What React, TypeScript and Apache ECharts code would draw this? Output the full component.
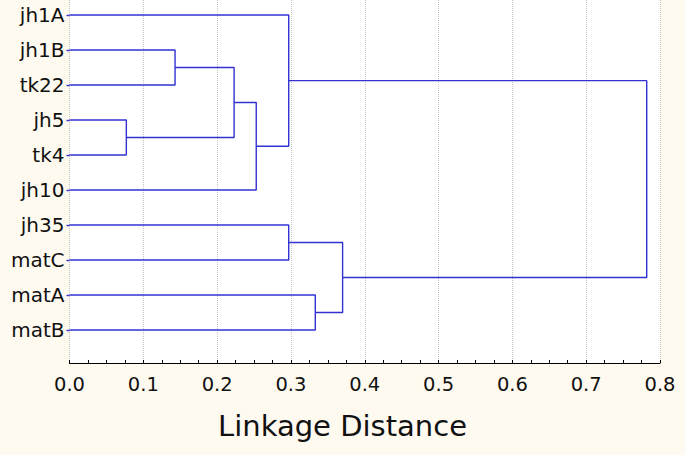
import React, { useEffect, useRef } from "react";
import * as echarts from "echarts";

const leaves = ["jh1A", "jh1B", "tk22", "jh5", "tk4", "jh10", "jh35", "matC", "matA", "matB"];
// linkage: node ids 0..9 are leaves, merges get ids 10..18 in order
const mergeLeft = [3, 1, 11, 12, 0, 6, 8, 15, 14];
const mergeRight = [4, 2, 10, 5, 13, 7, 9, 16, 17];
const mergeHeight = [0.077, 0.143, 0.223, 0.253, 0.297, 0.297, 0.333, 0.37, 0.782];
const xTicks = [0, 0.1, 0.2, 0.3, 0.4, 0.5, 0.6, 0.7, 0.8];
const axisTitle = "Linkage Distance";

const LINE = "#3232d2";

export default function App() {
  const ref = useRef<HTMLDivElement>(null);
  useEffect(() => {
    if (!ref.current) return;
    const chart = echarts.init(ref.current, null, { renderer: "svg" });
    const pos: number[] = leaves.map((_, i) => i);
    const hgt: number[] = leaves.map(() => 0);
    const series: any[] = [];
    mergeLeft.forEach((l, k) => {
      const r = mergeRight[k];
      const h = mergeHeight[k];
      series.push({
        type: "line",
        showSymbol: false,
        symbol: "none",
        silent: true,
        lineStyle: { color: LINE, width: 1.4 },
        data: [
          [hgt[l], pos[l]],
          [h, pos[l]],
          [h, pos[r]],
          [hgt[r], pos[r]],
        ],
      });
      pos.push((pos[l] + pos[r]) / 2);
      hgt.push(h);
    });
    const leafIdx = leaves.map((_, i) => i);
    chart.setOption({
      animation: false,
      backgroundColor: "#fffaf0",
      textStyle: { fontFamily: "DejaVu Sans" },
      grid: {
        left: 69.5,
        right: 25,
        top: 0,
        bottom: 92,
        show: true,
        backgroundColor: "#ffffff",
        borderWidth: 0,
      },
      xAxis: {
        type: "value",
        min: 0,
        max: 0.8,
        interval: 0.1,
        axisLine: { show: true, onZero: false, lineStyle: { color: "#000", width: 1.2 } },
        axisTick: { show: true, inside: true, length: 3, lineStyle: { color: "#000" } },
        minorTick: { show: true, splitNumber: 4, length: 3, lineStyle: { color: "#000" } },
        axisLabel: {
          color: "#111",
          fontSize: 19.5,
          margin: 11,
          fontFamily: "DejaVu Sans",
          formatter: (v: number) => v.toFixed(1),
          customValues: xTicks,
        },
        splitLine: { show: true, lineStyle: { color: "#c4c4c4", type: "dotted", width: 1 } },
      },
      yAxis: {
        type: "value",
        inverse: true,
        min: -15 / 35,
        max: -15 / 35 + 363 / 35,
        axisLine: { show: false, onZero: false },
        splitLine: { show: false },
        axisTick: {
          show: true,
          length: 3,
          customValues: leafIdx,
          lineStyle: { color: LINE, width: 1.4 },
        },
        axisLabel: {
          color: "#111",
          fontSize: 20,
          margin: 5,
          fontFamily: "DejaVu Sans",
          customValues: leafIdx,
          formatter: (v: number) => leaves[Math.round(v)] ?? "",
        },
      },
      graphic: [
        {
          type: "text",
          x: 342.5,
          y: 426,
          style: {
            text: axisTitle,
            fontSize: 29,
            fontFamily: "DejaVu Sans",
            fill: "#111",
            align: "center",
            verticalAlign: "middle",
          },
        },
      ],
      series,
    });
    return () => chart.dispose();
  }, []);
  return <div ref={ref} style={{ width: 685, height: 455, position: "absolute", left: 0, top: 0 }} />;
}
